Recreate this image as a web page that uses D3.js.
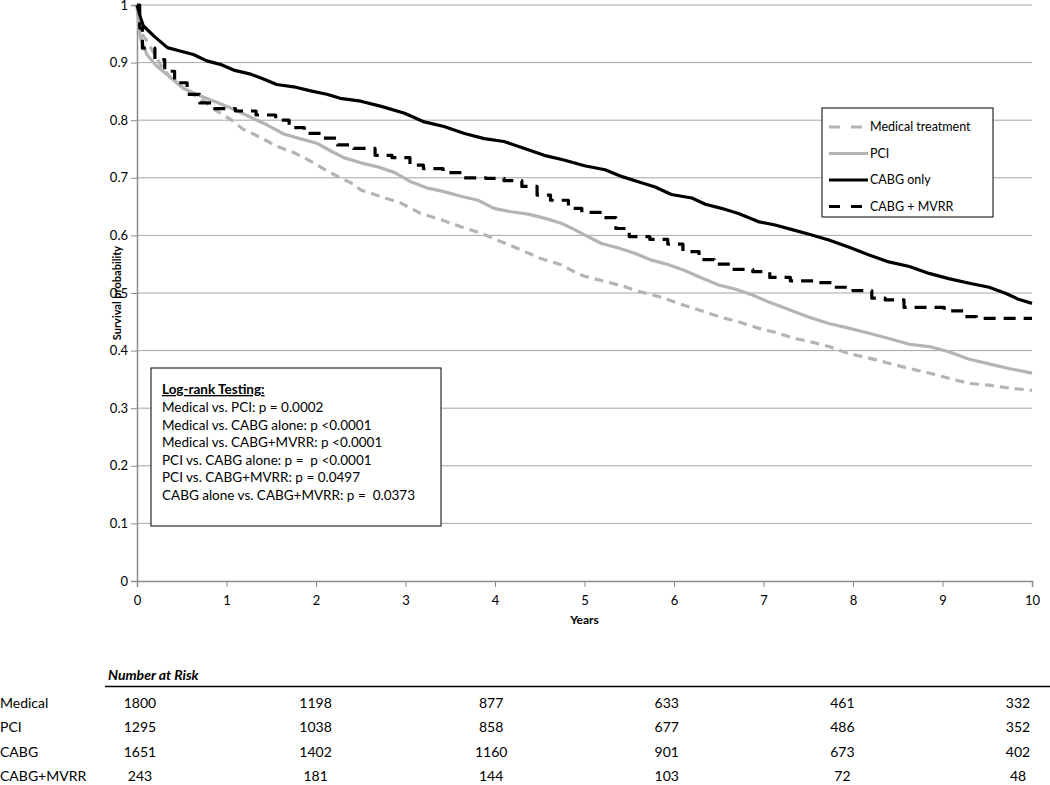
<!DOCTYPE html>
<html>
<head>
<meta charset="utf-8">
<script src="https://cdn.jsdelivr.net/npm/d3@7"></script>
<style>
  body { margin: 0; background: #fff; }
  svg { font-family: Lato, "Open Sans", sans-serif; }
  text { white-space: pre; }
</style>
</head>
<body>
<div id="graph"></div>
<script>
// survival curves, [years, probability]
var medical = [[0,1],[0.03,0.955],[0.11,0.938],[0.26,0.897],[0.37,0.874],[0.56,0.851],[0.74,0.834],[0.89,0.816],
  [1.04,0.802],[1.19,0.784],[1.38,0.770],[1.56,0.755],[1.75,0.744],[1.94,0.729],[2.09,0.715],[2.27,0.700],[2.42,0.689],
  [2.5,0.679],[2.73,0.667],[2.95,0.656],[3.17,0.638],[3.40,0.627],[3.62,0.615],[3.84,0.604],[4.07,0.589],[4.29,0.575],
  [4.51,0.560],[4.74,0.549],[4.92,0.534],[5.0,0.529],[5.23,0.520],[5.45,0.511],[5.60,0.503],[5.83,0.494],[6.05,0.482],
  [6.27,0.471],[6.50,0.459],[6.72,0.450],[6.94,0.439],[7.17,0.430],[7.35,0.421],[7.51,0.416],[7.73,0.407],[7.95,0.395],
  [8.18,0.387],[8.40,0.378],[8.63,0.369],[8.85,0.361],[9.07,0.352],[9.30,0.343],[9.52,0.340],[9.74,0.335],[10,0.331]];

var pci = [[0,1],[0.02,0.96],[0.04,0.943],[0.11,0.914],[0.22,0.894],[0.37,0.875],[0.52,0.855],[0.71,0.842],[0.89,0.831],
  [1.08,0.819],[1.27,0.805],[1.45,0.792],[1.64,0.776],[1.82,0.768],[2.01,0.760],[2.16,0.747],[2.31,0.735],[2.5,0.726],
  [2.69,0.719],[2.88,0.709],[3.06,0.693],[3.25,0.682],[3.43,0.676],[3.62,0.668],[3.81,0.661],[3.99,0.647],[4.18,0.641],
  [4.37,0.637],[4.55,0.630],[4.74,0.621],[4.89,0.610],[5.0,0.601],[5.19,0.586],[5.38,0.578],[5.56,0.569],[5.75,0.557],
  [5.94,0.549],[6.12,0.539],[6.31,0.526],[6.50,0.514],[6.68,0.507],[6.87,0.497],[7.05,0.485],[7.24,0.474],[7.39,0.465],
  [7.51,0.458],[7.73,0.447],[7.95,0.439],[8.18,0.430],[8.40,0.421],[8.63,0.411],[8.85,0.407],[9.07,0.398],[9.30,0.385],
  [9.52,0.377],[9.74,0.369],[10,0.361]];

var cabg = [[0,1],[0.04,0.978],[0.07,0.964],[0.19,0.946],[0.34,0.926],[0.48,0.920],[0.63,0.914],[0.78,0.903],[0.93,0.897],
  [1.08,0.887],[1.27,0.880],[1.42,0.871],[1.56,0.862],[1.75,0.858],[1.94,0.851],[2.12,0.845],[2.27,0.838],[2.5,0.833],
  [2.73,0.824],[2.99,0.812],[3.21,0.797],[3.43,0.789],[3.66,0.777],[3.88,0.768],[4.10,0.763],[4.33,0.751],[4.55,0.739],
  [4.77,0.731],[5.0,0.721],[5.23,0.714],[5.42,0.702],[5.60,0.693],[5.79,0.684],[5.97,0.671],[6.20,0.665],[6.35,0.654],
  [6.53,0.647],[6.72,0.638],[6.94,0.624],[7.13,0.618],[7.32,0.610],[7.51,0.602],[7.73,0.592],[7.95,0.580],[8.18,0.566],
  [8.40,0.554],[8.63,0.546],[8.85,0.534],[9.07,0.525],[9.30,0.517],[9.52,0.510],[9.71,0.499],[9.85,0.489],[10,0.482]];

var mvrr = [[0,1],[0.03,0.96],[0.06,0.925],[0.2,0.905],[0.31,0.885],[0.42,0.865],[0.56,0.845],[0.7,0.83],[0.87,0.82],
  [1.1,0.816],[1.33,0.809],[1.55,0.800],[1.7,0.787],[1.87,0.777],[2.07,0.769],[2.24,0.757],[2.42,0.751],[2.66,0.739],
  [2.85,0.735],[3.05,0.722],[3.2,0.716],[3.42,0.709],[3.65,0.700],[3.9,0.699],[4.1,0.695],[4.3,0.685],[4.47,0.670],
  [4.62,0.661],[4.82,0.647],[4.97,0.640],[5.2,0.631],[5.35,0.612],[5.5,0.598],[5.73,0.593],[5.93,0.585],[6.1,0.572],
  [6.28,0.558],[6.45,0.550],[6.65,0.541],[6.88,0.537],[7.07,0.527],[7.3,0.521],[7.58,0.518],[7.78,0.510],[8.0,0.504],
  [8.21,0.491],[8.36,0.488],[8.57,0.475],[9.02,0.469],[9.24,0.459],[9.38,0.456],[10,0.456]];

var legendLabels = ["Medical treatment", "PCI", "CABG only", "CABG + MVRR"];

var logRankTitle = "Log-rank Testing:";
var logRankLines = [
  "Medical vs. PCI: p = 0.0002",
  "Medical vs. CABG alone: p <0.0001",
  "Medical vs. CABG+MVRR: p <0.0001",
  "PCI vs. CABG alone: p =  p <0.0001",
  "PCI vs. CABG+MVRR: p = 0.0497",
  "CABG alone vs. CABG+MVRR: p =  0.0373"
];

var riskGroups = ["Medical", "PCI", "CABG", "CABG+MVRR"];
var riskYears = [0, 2, 4, 6, 8, 10];
var riskCounts = [
  [1800, 1198, 877, 633, 461, 332],
  [1295, 1038, 858, 677, 486, 352],
  [1651, 1402, 1160, 901, 673, 402],
  [243, 181, 144, 103, 72, 48]
];

var width = 1050, height = 785;
var plotLeft = 137, plotRight = 1032, plotTop = 5, plotBottom = 581;

var series = [
  { name: legendLabels[0], data: medical, color: "#b4b4b4", dash: "9,6", curve: d3.curveLinear },
  { name: legendLabels[1], data: pci, color: "#b4b4b4", dash: null, curve: d3.curveLinear },
  { name: legendLabels[2], data: cabg, color: "#000", dash: null, curve: d3.curveLinear },
  { name: legendLabels[3], data: mvrr, color: "#000", dash: "12,8", curve: d3.curveStepAfter }
];

var svg = d3.select("#graph").append("svg")
  .attr("width", width)
  .attr("height", height);

var x = d3.scaleLinear().domain([0, 10]).range([plotLeft, plotRight]);
var y = d3.scaleLinear().domain([0, 1]).range([plotBottom, plotTop]);

// gridlines
svg.append("g")
  .selectAll("line")
  .data(d3.range(1, 11).map(function(d) { return d / 10; }))
  .enter().append("line")
  .attr("x1", plotLeft).attr("x2", plotRight)
  .attr("y1", function(d) { return y(d); })
  .attr("y2", function(d) { return y(d); })
  .attr("stroke", "#a6a6a6")
  .attr("stroke-width", 1);

// axes
var yAxis = svg.append("g")
  .attr("transform", "translate(" + plotLeft + ",0)")
  .call(d3.axisLeft(y).tickValues(d3.range(0, 11).map(function(d) { return d / 10; }))
    .tickFormat(function(d) { return String(+d.toFixed(1)); })
    .tickSize(6).tickPadding(3));

var xAxis = svg.append("g")
  .attr("transform", "translate(0," + plotBottom + ")")
  .call(d3.axisBottom(x).ticks(10).tickSize(6).tickPadding(9));

[yAxis, xAxis].forEach(function(a) {
  a.select(".domain").attr("stroke", "#8c8c8c").attr("stroke-width", 1.5);
  a.selectAll(".tick line").attr("stroke", "#8c8c8c");
  a.selectAll(".tick text").attr("font-size", 13).attr("font-family", "Lato").attr("fill", "#000");
});

svg.append("text")
  .attr("transform", "translate(121," + ((plotTop + plotBottom) / 2) + ") rotate(-90)")
  .attr("text-anchor", "middle")
  .attr("font-size", 11)
  .attr("font-weight", "bold")
  .text("Survival probability");

svg.append("text")
  .attr("x", (plotLeft + plotRight) / 2)
  .attr("y", 624)
  .attr("text-anchor", "middle")
  .attr("font-size", 12)
  .attr("font-weight", "bold")
  .text("Years");

// curves
var line = d3.line()
  .x(function(d) { return x(d[0]); })
  .y(function(d) { return y(d[1]); });

series.forEach(function(s) {
  svg.append("path")
    .datum(s.data)
    .attr("fill", "none")
    .attr("stroke", s.color)
    .attr("stroke-width", 3.2)
    .attr("stroke-dasharray", s.dash)
    .attr("stroke-linejoin", "round")
    .attr("d", line.curve(s.curve));
});

// legend
var legend = svg.append("g").attr("transform", "translate(822,108)");
legend.append("rect")
  .attr("width", 171).attr("height", 109)
  .attr("fill", "#fff").attr("stroke", "#000").attr("stroke-width", 1);

var item = legend.selectAll(".item")
  .data(series)
  .enter().append("g")
  .attr("transform", function(d, i) { return "translate(0," + (19 + i * 26.5) + ")"; });

item.append("line")
  .attr("x1", 7).attr("x2", 46)
  .attr("stroke", function(d) { return d.color; })
  .attr("stroke-width", 3.2)
  .attr("stroke-dasharray", function(d) { return d.dash ? "11,11" : null; });

item.append("text")
  .attr("x", 48).attr("dy", "0.35em")
  .attr("font-size", 12.5)
  .text(function(d) { return d.name; });

// log-rank box
var box = svg.append("g").attr("transform", "translate(151,368)");
box.append("rect")
  .attr("width", 290).attr("height", 158)
  .attr("fill", "#fff").attr("stroke", "#000").attr("stroke-width", 1);

box.append("text")
  .attr("x", 11).attr("y", 26)
  .attr("font-size", 13.5)
  .attr("font-weight", "bold")
  .attr("text-decoration", "underline")
  .text(logRankTitle);

box.selectAll(".lr")
  .data(logRankLines)
  .enter().append("text")
  .attr("x", 11)
  .attr("y", function(d, i) { return 44 + i * 17.5; })
  .attr("font-size", 13.5)
  .text(function(d) { return d; });

// number at risk table
svg.append("text")
  .attr("x", 108).attr("y", 680)
  .attr("font-size", 14)
  .attr("font-weight", "bold")
  .attr("font-style", "italic")
  .text("Number at Risk");

svg.append("line")
  .attr("x1", 105).attr("x2", width)
  .attr("y1", 686.5).attr("y2", 686.5)
  .attr("stroke", "#000").attr("stroke-width", 1.5);

var col = d3.scalePoint().domain(riskYears).range([140, 1018]);
var row = d3.scalePoint().domain(riskGroups).range([703, 776]);

svg.selectAll(".grp")
  .data(riskGroups)
  .enter().append("text")
  .attr("x", 0)
  .attr("y", function(d) { return row(d); })
  .attr("dy", "0.35em")
  .attr("font-size", 14)
  .text(function(d) { return d; });

riskCounts.forEach(function(counts, r) {
  svg.selectAll(".cnt" + r)
    .data(counts)
    .enter().append("text")
    .attr("x", function(d, i) { return col(riskYears[i]); })
    .attr("y", row(riskGroups[r]))
    .attr("dy", "0.35em")
    .attr("text-anchor", "middle")
    .attr("font-size", 14)
    .text(function(d) { return d; });
});
</script>
</body>
</html>
